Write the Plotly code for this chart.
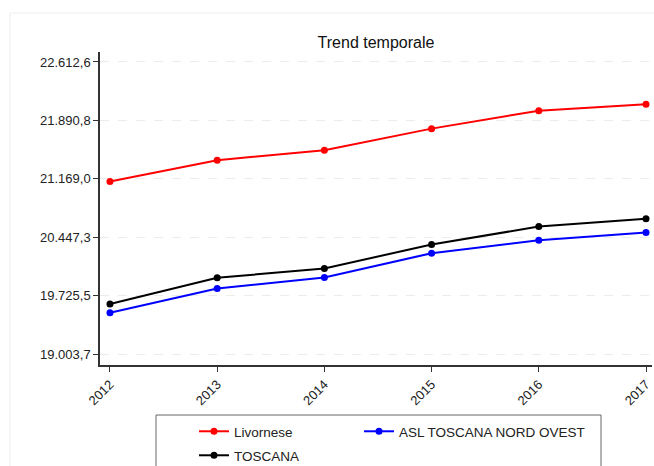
import plotly.graph_objects as go

years = [2012, 2013, 2014, 2015, 2016, 2017]
livornese = [21135, 21399, 21522, 21789, 22011, 22090]
asl_nord_ovest = [19513, 19814, 19950, 20250, 20411, 20505]
toscana = [19621, 19946, 20061, 20357, 20579, 20674]

y_tickvals = [19003.7, 19725.5, 20447.3, 21169.0, 21890.8, 22612.6]
y_ticktext = ["19.003,7", "19.725,5", "20.447,3", "21.169,0", "21.890,8", "22.612,6"]
x_ticktext = ["2012", "2013", "2014", "2015", "2016", "2017"]

series = [
    ("Livornese", livornese, "#ff0000", "legend"),
    ("ASL TOSCANA NORD OVEST", asl_nord_ovest, "#0000ff", "legend2"),
    ("TOSCANA", toscana, "#000000", "legend3"),
]

fig = go.Figure()
for name, vals, col, lg in series:
    fig.add_trace(go.Scatter(
        x=years, y=vals, name=name, mode="lines+markers",
        line=dict(color=col, width=2),
        marker=dict(color=col, size=7),
        legend=lg,
    ))

W, H = 654, 466
L, R, T, B = 100, 2, 52, 101
pw, ph = W - L - R, H - T - B


def px_x(x):
    return (x - L) / pw


def px_y(y):
    return (H - B - y) / ph


legend_common = dict(orientation="h", xanchor="left", yanchor="top",
                     borderwidth=0, bgcolor="rgba(0,0,0,0)",
                     font=dict(size=13.5, color="#222222"), tracegroupgap=0)

fig.update_layout(
    width=W, height=H,
    margin=dict(l=L, r=R, t=T, b=B, autoexpand=False),
    paper_bgcolor="white", plot_bgcolor="white",
    font=dict(family="Liberation Sans, Arial, sans-serif", size=12, color="#222222"),
    title=dict(text="Trend temporale", x=0.5, xref="paper", xanchor="center",
               y=1 - 42 / H, yref="container", yanchor="middle",
               font=dict(size=16, color="#111111")),
    showlegend=True,
    legend=dict(x=px_x(194), y=px_y(416), **legend_common),
    legend2=dict(x=px_x(359), y=px_y(416), **legend_common),
    legend3=dict(x=px_x(194), y=px_y(440), **legend_common),
    shapes=[
        dict(type="rect", xref="paper", yref="paper",
             x0=px_x(10), x1=2, y0=-2, y1=px_y(13),
             line=dict(color="#eeeeee", width=1), layer="below"),
        dict(type="rect", xref="paper", yref="paper",
             x0=px_x(156), x1=px_x(601), y0=px_y(480), y1=px_y(415),
             line=dict(color="#666666", width=1), layer="above"),
    ],
)

fig.update_xaxes(
    range=[2011.907, 2017.056], tickvals=years, ticktext=x_ticktext,
    tickangle=-45, ticks="outside", ticklen=5, tickcolor="#333333",
    showline=True, linecolor="#333333", linewidth=1.5, automargin=False,
    showgrid=False, zeroline=False, tickfont=dict(size=13),
)
fig.update_yaxes(
    range=[18868, 22736], tickvals=y_tickvals, ticktext=y_ticktext,
    ticks="outside", ticklen=5, tickcolor="#333333",
    showline=True, linecolor="#333333", linewidth=1.5, automargin=False,
    showgrid=True, gridcolor="#ececec", griddash="dash", gridwidth=1,
    zeroline=False, tickfont=dict(size=13),
)

fig.write_html(
    "out.html",
    config={"displayModeBar": False},
    post_script="document.body.style.margin='0';document.body.style.overflow='hidden';",
)
